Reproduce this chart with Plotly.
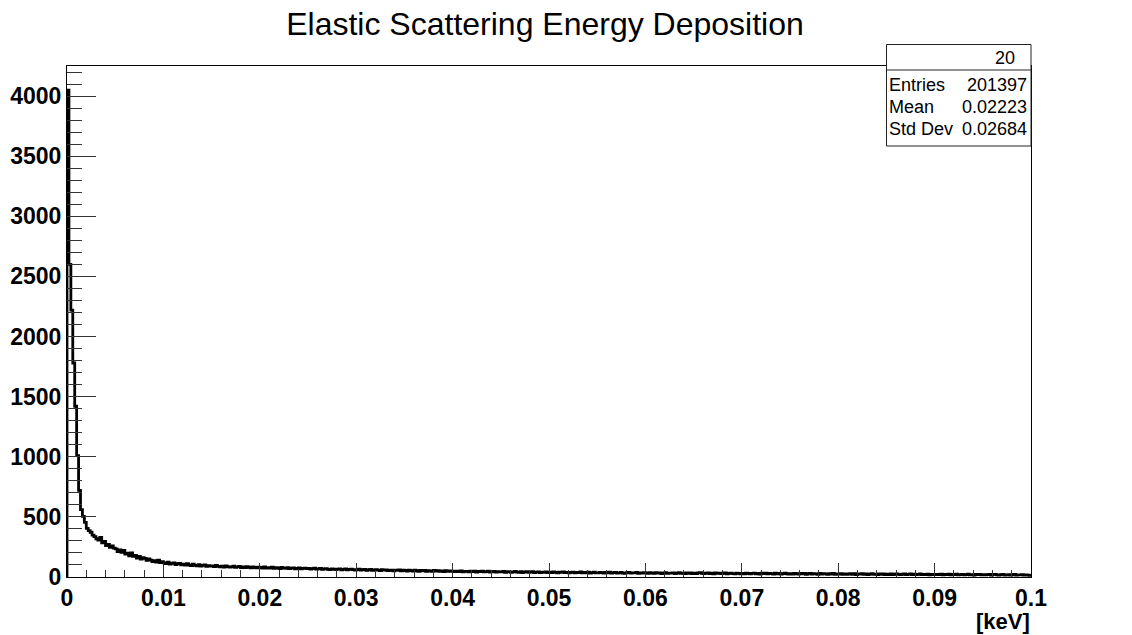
import numpy as np
import plotly.graph_objects as go

# Histogram definition: 500 bins over [0, 0.1] keV
n_bins = 500
x_min, x_max = 0.0, 0.1

# Bin contents, 25 bins per row (each row spans 0.005 keV)
counts = [
    4050, 2600, 2220, 1780, 1420, 1010, 720, 560, 505, 455, 405, 385, 372, 348, 335, 318, 306, 330, 283, 296, 262, 272, 246, 258, 240,
    234, 212, 226, 205, 221, 190, 198, 176, 201, 171, 180, 158, 172, 149, 160, 155, 138, 150, 141, 129, 137, 124, 140, 119, 127,
    118, 112, 124, 108, 113, 117, 103, 110, 114, 101, 107, 98, 110, 100, 95, 106, 97, 93, 102, 91, 97, 100, 89, 95, 90,
    92, 87, 97, 89, 85, 90, 83, 92, 86, 82, 85, 90, 80, 84, 88, 79, 83, 78, 87, 81, 77, 85, 79, 76, 81,
    79, 75, 83, 74, 78, 73, 81, 72, 77, 75, 70, 79, 73, 71, 77, 69, 73, 76, 68, 72, 75, 67, 71, 74, 69,
    72, 66, 69, 73, 65, 68, 71, 63, 67, 70, 64, 62, 68, 66, 61, 65, 68, 60, 64, 67, 59, 63, 66, 62, 58,
    62, 65, 57, 61, 64, 56, 60, 63, 55, 59, 62, 58, 54, 61, 57, 60, 53, 58, 56, 52, 58, 55, 59, 51, 56,
    54, 50, 56, 53, 49, 57, 52, 48, 55, 51, 54, 47, 52, 50, 46, 54, 49, 52, 47, 50, 45, 53, 48, 51, 46,
    49, 45, 48, 44, 51, 43, 47, 46, 42, 49, 45, 48, 41, 46, 44, 49, 42, 45, 48, 41, 44, 47, 40, 45, 43,
    42, 46, 39, 44, 43, 38, 42, 46, 41, 39, 44, 37, 42, 45, 38, 41, 44, 37, 40, 43, 36, 41, 38, 43, 37,
    40, 36, 42, 39, 35, 41, 38, 43, 36, 39, 34, 38, 41, 35, 39, 37, 42, 34, 38, 35, 40, 33, 37, 41, 35,
    35, 39, 36, 32, 38, 35, 40, 33, 36, 39, 32, 35, 38, 33, 31, 36, 39, 32, 35, 34, 38, 31, 35, 33, 37,
    34, 31, 36, 33, 30, 37, 32, 35, 29, 33, 36, 30, 33, 32, 35, 29, 33, 36, 30, 32, 29, 35, 31, 34, 28,
    32, 29, 34, 36, 31, 28, 32, 35, 29, 31, 27, 34, 30, 33, 28, 31, 34, 27, 30, 33, 28, 26, 31, 30, 27,
    30, 27, 32, 29, 26, 30, 33, 27, 29, 25, 31, 28, 32, 26, 29, 28, 25, 31, 27, 30, 24, 28, 31, 27, 25,
    28, 25, 30, 27, 24, 29, 26, 30, 23, 27, 29, 24, 27, 26, 23, 29, 25, 28, 26, 22, 28, 25, 29, 23, 26,
    25, 28, 23, 26, 22, 25, 28, 23, 27, 21, 25, 24, 27, 22, 25, 21, 24, 27, 22, 24, 20, 26, 23, 25, 21,
    24, 21, 26, 20, 23, 25, 22, 19, 23, 26, 20, 22, 25, 19, 23, 21, 22, 25, 19, 22, 21, 24, 18, 22, 20,
    22, 19, 21, 24, 18, 21, 20, 23, 17, 21, 20, 23, 18, 20, 22, 17, 20, 23, 18, 20, 16, 22, 19, 21, 17,
    20, 17, 19, 22, 16, 19, 21, 17, 16, 19, 21, 15, 18, 20, 16, 18, 21, 15, 18, 17, 20, 15, 18, 16, 13,
]

# Statistics box contents
stats_title = "20"
stats_labels = ["Entries", "Mean", "Std Dev"]
stats_values = ["201397", "0.02223", "0.02684"]

title_text = "Elastic Scattering Energy Deposition"
x_unit = "[keV]"

# Step outline of the histogram
edges = np.linspace(x_min, x_max, n_bins + 1)
step_x = np.concatenate([[x_min], edges])
step_y = np.concatenate([[0], counts, [counts[-1]]])

W, H = 1132, 635
L, R, T, B = 67, 1031, 66, 577


def px_x(px):
    return (px - L) / (R - L)


def px_y(py):
    return (B - py) / (B - T)


FONT = "Liberation Sans, Arial, Helvetica, sans-serif"

fig = go.Figure()
fig.add_trace(go.Scatter(
    x=step_x, y=step_y, mode="lines", line_shape="hv",
    line=dict(color="black", width=2.8), hoverinfo="skip", showlegend=False,
))

fig.update_layout(
    width=W, height=H,
    margin=dict(l=L, r=W - R, t=T, b=H - B, pad=0, autoexpand=False),
    paper_bgcolor="white", plot_bgcolor="white",
    font=dict(family=FONT, color="black"),
    title=dict(text=title_text, x=545 / W, xanchor="center", y=1 - 24 / H, yanchor="middle",
               font=dict(size=32, family=FONT, color="black"), automargin=False),
)

fig.update_xaxes(
    range=[x_min, x_max], dtick=0.01, tick0=0, automargin=False,
    showgrid=False, zeroline=False,
    showline=True, linecolor="black", linewidth=1, mirror=True,
    ticks="inside", ticklen=14, tickwidth=1, tickcolor="#333",
    minor=dict(ticks="inside", ticklen=7, dtick=0.002, tickcolor="#333", tickwidth=1, showgrid=False),
    tickfont=dict(size=23, family=FONT, color="black", weight="bold"),
    ticklabelstandoff=0,
)
fig.update_yaxes(
    range=[0, 4250], dtick=500, tick0=0, tickformat="d", automargin=False,
    showgrid=False, zeroline=False,
    showline=True, linecolor="black", linewidth=1, mirror=True,
    ticks="inside", ticklen=29, tickwidth=1, tickcolor="#333",
    minor=dict(ticks="inside", ticklen=15, dtick=100, tickcolor="#333", tickwidth=1, showgrid=False),
    tickfont=dict(size=23, family=FONT, color="black", weight="bold"),
    ticklabelstandoff=0,
)

# Axis unit label at the right end of the x axis
fig.add_annotation(
    text=x_unit, xref="paper", yref="paper", x=1.0, y=px_y(621),
    xanchor="right", yanchor="middle", showarrow=False, xshift=1,
    font=dict(size=22, family=FONT, color="black", weight="bold"),
)

# Statistics box
bx0, bx1, by0, by1, bsep = 886.5, 1031, 146, 44.5, 70
fig.add_shape(type="rect", xref="paper", yref="paper",
              x0=px_x(bx0), x1=px_x(bx1), y0=px_y(by0), y1=px_y(by1),
              line=dict(color="#222", width=1), fillcolor="white", layer="above")
fig.add_shape(type="line", xref="paper", yref="paper",
              x0=px_x(bx0), x1=px_x(bx1), y0=px_y(bsep), y1=px_y(bsep),
              line=dict(color="#222", width=1), layer="above")
fig.add_annotation(text=stats_title, xref="paper", yref="paper",
                   x=px_x(1005), y=px_y(58), xanchor="center", yanchor="middle",
                   showarrow=False, font=dict(size=18, family=FONT, color="black"))
row_y = [85, 107, 129]
for lab, val, ry in zip(stats_labels, stats_values, row_y):
    fig.add_annotation(text=lab, xref="paper", yref="paper",
                       x=px_x(887), y=px_y(ry), xanchor="left", yanchor="middle",
                       showarrow=False, font=dict(size=18, family=FONT, color="black"))
    fig.add_annotation(text=val, xref="paper", yref="paper",
                       x=px_x(1029), y=px_y(ry), xanchor="right", yanchor="middle",
                       showarrow=False, font=dict(size=18, family=FONT, color="black"))

fig.write_html("out.html")
